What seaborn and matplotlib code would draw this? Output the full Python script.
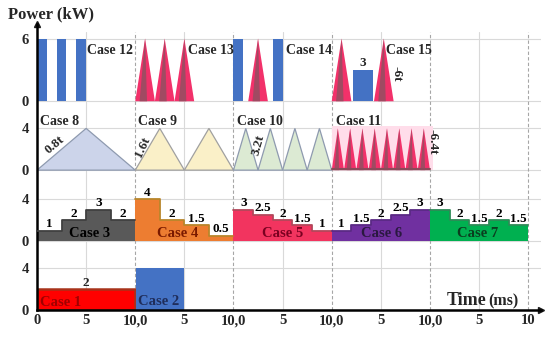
import numpy as np
import matplotlib
matplotlib.use("Agg")
import matplotlib.pyplot as plt
import seaborn as sns

sns.set_theme(style="white")
plt.rcParams['font.family'] = ['Liberation Serif', 'DejaVu Serif']
plt.rcParams['font.weight'] = 'bold'

# row baselines (stacked panels share one axis)
row_base = [0, 6.6, 13.4, 20.0]

# row 4: constant loads
case1_level = 2
case2_level = 4
case2_width = 5

# row 3: step loads, each spread evenly over a 10 ms window
case3_levels = [1, 2, 3, 2]
case4_levels = [4, 2, 1.5, 0.5]
case5_levels = [3, 2.5, 2, 1.5, 1]
case6_levels = [1, 1.5, 2, 2.5, 3]
case7_levels = [3, 2, 1.5, 2, 1.5]
case3_labels = ["1", "2", "3", "2"]
case4_labels = ["4", "2", "1.5", "0.5"]
case5_labels = ["3", "2.5", "2", "1.5", "1"]
case6_labels = ["1", "1.5", "2", "2.5", "3"]
case7_labels = ["3", "2", "1.5", "2", "1.5"]

# row 2: triangular loads (number of triangles in each 10 ms window)
tri_peak = 4
case8_n, case9_n, case10_n, case11_n = 1, 2, 4, 8
slope_labels = ["0.8t", "1.6t", "3.2t", "-6.4t"]

# row 1: pulses and spikes
pulse_peak = 6
case12_pulses = [0, 2, 4]
case13_spikes = [10, 12, 14]
case14_pulses = [20, 24]
case14_spikes = [21.5]
case15_spikes = [30, 34.3]
case15_bar = (32.2, 34.2, 3)
pulse_w = 1
spike_w = 2

xtick_pos = [0, 5, 10, 15, 20, 25, 30, 35, 40, 45, 50]
xtick_lab = ["0", "5", "10,0", "5", "10,0", "5", "10,0", "5", "10,0", "5", "10"]

fig = plt.figure(figsize=(5.5, 3.38), dpi=100)
ax = fig.add_axes([37 / 550, 28 / 338, 504 / 550, 286 / 338])
ax.set_xlim(0, 51.3)
ax.set_ylim(0, 27.4)

# grid
ytick_pos = [row_base[0], row_base[0] + 4, row_base[1], row_base[1] + 4,
             row_base[2], row_base[2] + 4, row_base[3], row_base[3] + 6]
ytick_lab = ["0", "4", "0", "4", "0", "4", "0", "6"]
for y in ytick_pos:
    ax.axhline(y, color="#D9D9D9", lw=0.8, zorder=0)
for x in xtick_pos[1:]:
    if x % 10 == 0:
        ax.axvline(x, ymax=26.6 / 27.4, color="#A6A6A6", lw=0.8, ls=(0, (3, 2)), zorder=0)
    else:
        ax.axvline(x, ymax=26.6 / 27.4, color="#D9D9D9", lw=0.8, zorder=0)

bold = dict(fontweight="bold")


def draw_steps(levels, labels, t0, base, color, edge, name, name_col, name_x):
    n = len(levels)
    w = 10 / n
    xs = t0 + np.arange(n + 1) * w
    ys = base + np.array(levels + [levels[-1]])
    ax.fill_between(xs, base, ys, step="post", color=color, lw=0, zorder=2)
    ax.step(xs, ys, where="post", color=edge, lw=1.3, zorder=3)
    for i, lab in enumerate(labels):
        ax.text(t0 + (i + 0.5) * w, base + levels[i] + 0.05, lab, ha="center",
                va="bottom", fontsize=9.5, color="black", **bold)
    ax.text(name_x, base + 0.75, name, ha="center", va="center", fontsize=10.5,
            color=name_col, zorder=4, **bold)


def draw_triangles(n, t0, base, color, edge):
    w = 10 / n
    for i in range(n):
        xs = [t0 + i * w, t0 + (i + 0.5) * w, t0 + (i + 1) * w]
        ys = [base, base + tri_peak, base]
        ax.fill(xs, ys, color=color, ec=edge, lw=0.9, zorder=2)


def draw_spike(t0, w, base, peak):
    ax.fill([t0, t0 + w / 2, t0 + w], [base, base + peak, base],
            color="#F2316A", lw=0, zorder=2)
    ax.fill([t0 + 0.22 * w, t0 + w / 2, t0 + 0.6 * w], [base, base + peak, base],
            color="#A04A62", lw=0, zorder=3)


# row 4
b = row_base[0]
ax.bar(0, case1_level, width=10, bottom=b, align="edge", color="#FF0000",
       edgecolor="#A8321A", lw=1.8, zorder=2)
ax.text(5, b + case1_level + 0.05, str(case1_level), ha="center", va="bottom", fontsize=9.5, **bold)
ax.text(2.4, b + 0.75, "Case 1", ha="center", va="center", fontsize=10.5, color="#A00000", zorder=4, **bold)
ax.bar(10.1, case2_level, width=case2_width - 0.1, bottom=b, align="edge",
       color="#4472C4", lw=0, zorder=2)
ax.text(12.4, b + 0.85, "Case 2", ha="center", va="center", fontsize=10.5, color="#1F2D5A", zorder=4, **bold)

# row 3
b = row_base[1]
draw_steps(case3_levels, case3_labels, 0, b, "#595959", "#404040", "Case 3", "black", 5.4)
draw_steps(case4_levels, case4_labels, 10, b, "#ED7D31", "#B8862B", "Case 4", "#7A1A00", 14.3)
draw_steps(case5_levels, case5_labels, 20, b, "#F2345F", "#B2475A", "Case 5", "#7A0020", 25.0)
draw_steps(case6_levels, case6_labels, 30, b, "#7030A0", "#5A2A85", "Case 6", "#2A1840", 35.1)
draw_steps(case7_levels, case7_labels, 40, b, "#00B050", "#2E8B57", "Case 7", "#0B3D1F", 44.9)

# row 2
b = row_base[2]
draw_triangles(case8_n, 0, b, "#CCD4EA", "#8E9AAF")
draw_triangles(case9_n, 10, b, "#FAF0C8", "#A0A0A0")
draw_triangles(case10_n, 20, b, "#DCEAD3", "#8E9AAF")
ax.fill_between([30, 40.3], b, b + tri_peak + 0.2, color="#FFDDEA", lw=0, zorder=1)
w11 = 10 / case11_n
for i in range(case11_n):
    draw_spike(30 + i * w11, w11, b, tri_peak)
ax.plot([30, 40], [b + 0.1, b + 0.1], color="#8B4A5A", lw=1.5, zorder=4)
ax.text(0.3, b + 4.7, "Case 8", ha="left", va="center", fontsize=10, **bold)
ax.text(10.3, b + 4.7, "Case 9", ha="left", va="center", fontsize=10, **bold)
ax.text(20.4, b + 4.7, "Case 10", ha="left", va="center", fontsize=10, **bold)
ax.text(30.4, b + 4.7, "Case 11", ha="left", va="center", fontsize=10, **bold)
ax.text(1.8, b + 2.4, slope_labels[0], rotation=40, ha="center", va="center", fontsize=9.5, **bold)
ax.text(10.8, b + 2.2, slope_labels[1], rotation=65, ha="center", va="center", fontsize=9.5, **bold)
ax.text(22.5, b + 2.4, slope_labels[2], rotation=75, ha="center", va="center", fontsize=9.5, **bold)
ax.text(40.3, b + 2.7, slope_labels[3], rotation=-90, ha="center", va="center", fontsize=9.5, **bold)

# row 1
b = row_base[3]
for t in case12_pulses + case14_pulses:
    ax.bar(t, pulse_peak, width=pulse_w, bottom=b, align="edge", color="#4472C4", lw=0, zorder=2)
for t in case13_spikes + case14_spikes + case15_spikes:
    draw_spike(t, spike_w, b, pulse_peak)
x0, x1, h = case15_bar
ax.bar(x0, h, width=x1 - x0, bottom=b, align="edge", color="#4472C4", lw=0, zorder=2)
ax.text((x0 + x1) / 2, b + h + 0.1, str(h), ha="center", va="bottom", fontsize=9.5, **bold)
ax.text(36.6, b + 2.6, "-6t", rotation=-90, ha="center", va="center", fontsize=9.5, **bold)
for x, name in [(5.1, "Case 12"), (15.4, "Case 13"), (25.3, "Case 14"), (35.5, "Case 15")]:
    ax.text(x, b + 4.9, name, ha="left", va="center", fontsize=10, **bold)

# axes styling
sns.despine(ax=ax, top=True, right=True)
for s in ["left", "bottom"]:
    ax.spines[s].set_color("black")
    ax.spines[s].set_linewidth(1.8)
ax.plot(0, 1, "^k", ms=5, transform=ax.transAxes, clip_on=False)
ax.plot(1, 0, ">k", ms=5, transform=ax.transAxes, clip_on=False)
ax.set_xticks(xtick_pos)
ax.set_xticklabels(xtick_lab, fontsize=10.5, fontweight="bold")
ax.set_yticks(ytick_pos)
ax.set_yticklabels(ytick_lab, fontsize=10.5, fontweight="bold")
ax.tick_params(axis="both", length=0, pad=3)
ax.tick_params(axis="y", pad=6)
ax.grid(False)

fig.text(8 / 550, 1 - 14 / 338, "Power (kW)", ha="left", va="center", fontsize=12, fontweight="bold")
ax.text(41.7, 0.95, "Time", ha="left", va="center", fontsize=13, fontweight="bold")
ax.text(45.9, 0.85, "(ms)", ha="left", va="center", fontsize=11.5, fontweight="bold")

fig.savefig("out.png", dpi=100)
